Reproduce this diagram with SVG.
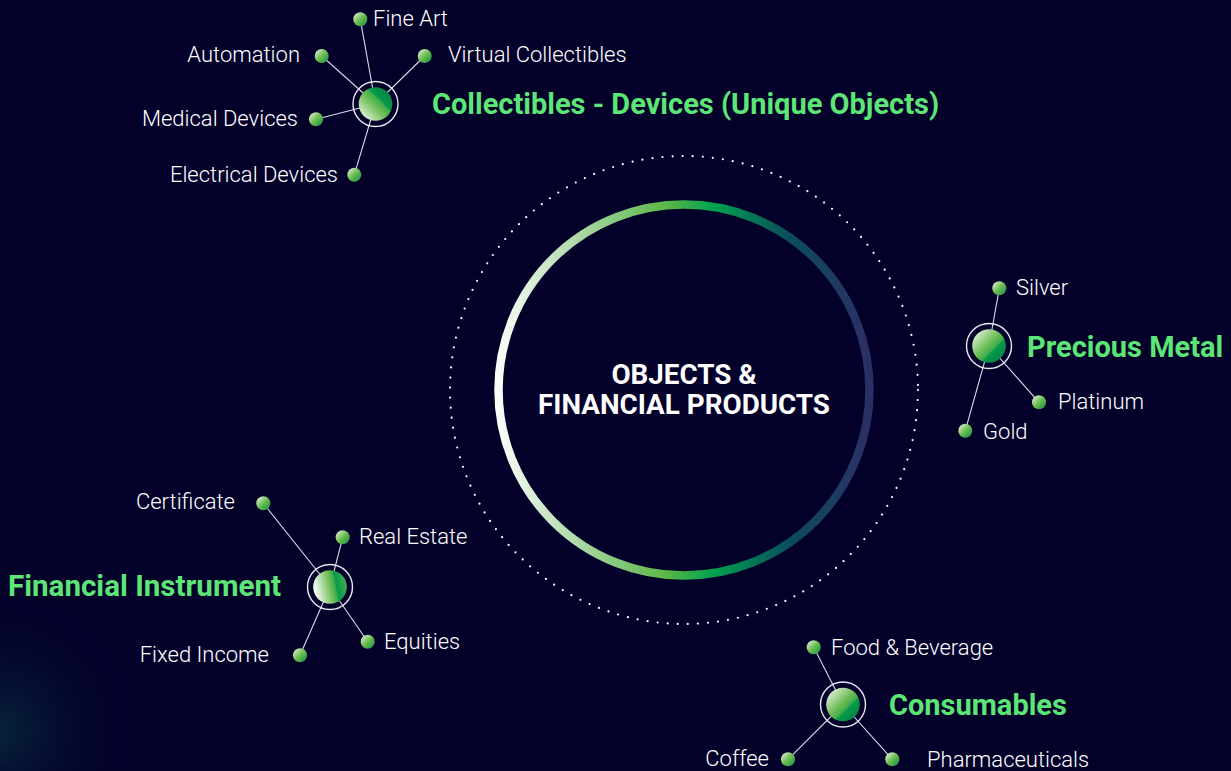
<svg xmlns="http://www.w3.org/2000/svg" width="1231" height="771" viewBox="0 0 1231 771">
<defs>
<style>
.lbl{font-family:Roboto,"Open Sans",sans-serif;font-size:22px;fill:#ffffff;font-weight:300}
.ttl{font-family:Roboto,"Open Sans",sans-serif;font-size:29px;fill:#5be676;font-weight:700}
.ctr{font-family:Roboto,"Liberation Sans",sans-serif;font-size:27.8px;fill:#ffffff;font-weight:700;text-anchor:middle}
.end{text-anchor:end}
.ln{stroke:#d8dbe6;stroke-width:1.1;fill:none}
.ring{fill:none;stroke:#e8e8f0;stroke-width:1.4}
</style>
<radialGradient id="glow" cx="0" cy="730" r="150" gradientUnits="userSpaceOnUse">
<stop offset="0" stop-color="#0b3a44" stop-opacity="0.6"/>
<stop offset="1" stop-color="#03002a" stop-opacity="0"/>
</radialGradient>
<linearGradient id="main" x1="494" y1="0" x2="874" y2="0" gradientUnits="userSpaceOnUse">
<stop offset="0" stop-color="#ffffff"/>
<stop offset="0.3" stop-color="#8fcc86"/>
<stop offset="0.45" stop-color="#5bb847"/>
<stop offset="0.58" stop-color="#00a14f"/>
<stop offset="0.78" stop-color="#0b4c5c"/>
<stop offset="1" stop-color="#2e2c66"/>
</linearGradient>
<linearGradient id="sph" x1="0" y1="0" x2="1" y2="1">
<stop offset="0" stop-color="#ffffff"/>
<stop offset="0.45" stop-color="#72bf5a"/>
<stop offset="0.6" stop-color="#3fae49"/>
<stop offset="0.64" stop-color="#05994c"/>
<stop offset="1" stop-color="#007a40"/>
</linearGradient>
<linearGradient id="sphB" x1="0" y1="1" x2="1" y2="0">
<stop offset="0" stop-color="#ffffff"/>
<stop offset="0.45" stop-color="#72bf5a"/>
<stop offset="0.6" stop-color="#3fae49"/>
<stop offset="0.64" stop-color="#05994c"/>
<stop offset="1" stop-color="#007a40"/>
</linearGradient>
<linearGradient id="sphC" x1="0" y1="0.5" x2="1" y2="0.3">
<stop offset="0" stop-color="#ffffff"/>
<stop offset="0.5" stop-color="#6dbd55"/>
<stop offset="0.62" stop-color="#3fae49"/>
<stop offset="0.68" stop-color="#05994c"/>
<stop offset="1" stop-color="#48b04a"/>
</linearGradient>
<linearGradient id="dot" x1="0" y1="0" x2="1" y2="1">
<stop offset="0" stop-color="#f2f8ee"/>
<stop offset="0.5" stop-color="#6cbd4f"/>
<stop offset="1" stop-color="#0a8f45"/>
</linearGradient>
</defs>
<rect width="1231" height="771" fill="#03002a"/>
<rect width="1231" height="771" fill="url(#glow)"/>

<g id="center">
<circle cx="684" cy="390" r="234" fill="none" stroke="#ffffff" stroke-width="2.2" stroke-linecap="round" stroke-dasharray="0 10.1"/>
<circle cx="684" cy="390" r="185.5" fill="none" stroke="url(#main)" stroke-width="8.5"/>
<text class="ctr" x="684" y="384">OBJECTS &amp;</text>
<text class="ctr" x="684" y="414">FINANCIAL PRODUCTS</text>
</g>

<g id="connectors">
<line class="ln" x1="375.5" y1="104" x2="360.3" y2="19.3"/>
<line class="ln" x1="375.5" y1="104" x2="321.7" y2="56"/>
<line class="ln" x1="375.5" y1="104" x2="424.7" y2="56"/>
<line class="ln" x1="375.5" y1="104" x2="316" y2="119.3"/>
<line class="ln" x1="375.5" y1="104" x2="354.3" y2="174.7"/>
<line class="ln" x1="989" y1="346" x2="999.3" y2="288.3"/>
<line class="ln" x1="989" y1="346" x2="1039" y2="402.3"/>
<line class="ln" x1="989" y1="346" x2="965.3" y2="430.7"/>
<line class="ln" x1="330" y1="587" x2="263.3" y2="503.3"/>
<line class="ln" x1="330" y1="587" x2="342.7" y2="537.3"/>
<line class="ln" x1="330" y1="587" x2="367.7" y2="641.7"/>
<line class="ln" x1="330" y1="587" x2="300" y2="655.3"/>
<line class="ln" x1="843" y1="704.5" x2="813.7" y2="647.3"/>
<line class="ln" x1="843" y1="704.5" x2="788" y2="759.3"/>
<line class="ln" x1="843" y1="704.5" x2="892.3" y2="759.3"/>
</g>

<g id="collectibles">
<circle class="ring" cx="375.5" cy="104" r="22.5"/>
<circle cx="375.5" cy="104" r="16.8" fill="url(#sphB)"/>
<text class="ttl" x="432" y="114">Collectibles - Devices (Unique Objects)</text>
</g>
<g id="fine-art"><circle cx="360.3" cy="19.3" r="7" fill="url(#dot)"/><text class="lbl" x="373" y="26">Fine Art</text></g>
<g id="automation"><circle cx="321.7" cy="56" r="7" fill="url(#dot)"/><text class="lbl end" x="300" y="62">Automation</text></g>
<g id="virtual-collectibles"><circle cx="424.7" cy="56" r="7" fill="url(#dot)"/><text class="lbl" x="448" y="62">Virtual Collectibles</text></g>
<g id="medical-devices"><circle cx="316" cy="119.3" r="7" fill="url(#dot)"/><text class="lbl end" x="298" y="126">Medical Devices</text></g>
<g id="electrical-devices"><circle cx="354.3" cy="174.7" r="7" fill="url(#dot)"/><text class="lbl end" x="338" y="182">Electrical Devices</text></g>

<g id="precious-metal">
<circle class="ring" cx="989" cy="346" r="22.5"/>
<circle cx="989" cy="346" r="16.8" fill="url(#sph)"/>
<text class="ttl" x="1027" y="357">Precious Metal</text>
</g>
<g id="silver"><circle cx="999.3" cy="288.3" r="7" fill="url(#dot)"/><text class="lbl" x="1016" y="295">Silver</text></g>
<g id="platinum"><circle cx="1039" cy="402.3" r="7" fill="url(#dot)"/><text class="lbl" x="1058" y="409">Platinum</text></g>
<g id="gold"><circle cx="965.3" cy="430.7" r="7" fill="url(#dot)"/><text class="lbl" x="983" y="439">Gold</text></g>

<g id="financial-instrument">
<circle class="ring" cx="330" cy="587" r="22.5"/>
<circle cx="330" cy="587" r="16.8" fill="url(#sphC)"/>
<text class="ttl" x="8" y="596" textLength="273" lengthAdjust="spacingAndGlyphs">Financial Instrument</text>
</g>
<g id="certificate"><circle cx="263.3" cy="503.3" r="7" fill="url(#dot)"/><text class="lbl end" x="235" y="509">Certificate</text></g>
<g id="real-estate"><circle cx="342.7" cy="537.3" r="7" fill="url(#dot)"/><text class="lbl" x="359" y="544">Real Estate</text></g>
<g id="equities"><circle cx="367.7" cy="641.7" r="7" fill="url(#dot)"/><text class="lbl" x="384" y="649">Equities</text></g>
<g id="fixed-income"><circle cx="300" cy="655.3" r="7" fill="url(#dot)"/><text class="lbl end" x="269" y="662">Fixed Income</text></g>

<g id="consumables">
<circle class="ring" cx="843" cy="704.5" r="22.5"/>
<circle cx="843" cy="704.5" r="16.8" fill="url(#sph)"/>
<text class="ttl" x="889" y="715">Consumables</text>
</g>
<g id="food-beverage"><circle cx="813.7" cy="647.3" r="7" fill="url(#dot)"/><text class="lbl" x="831" y="655">Food &amp; Beverage</text></g>
<g id="coffee"><circle cx="788" cy="759.3" r="7" fill="url(#dot)"/><text class="lbl end" x="769" y="766">Coffee</text></g>
<g id="pharmaceuticals"><circle cx="892.3" cy="759.3" r="7" fill="url(#dot)"/><text class="lbl" x="927" y="767">Pharmaceuticals</text></g>
</svg>
